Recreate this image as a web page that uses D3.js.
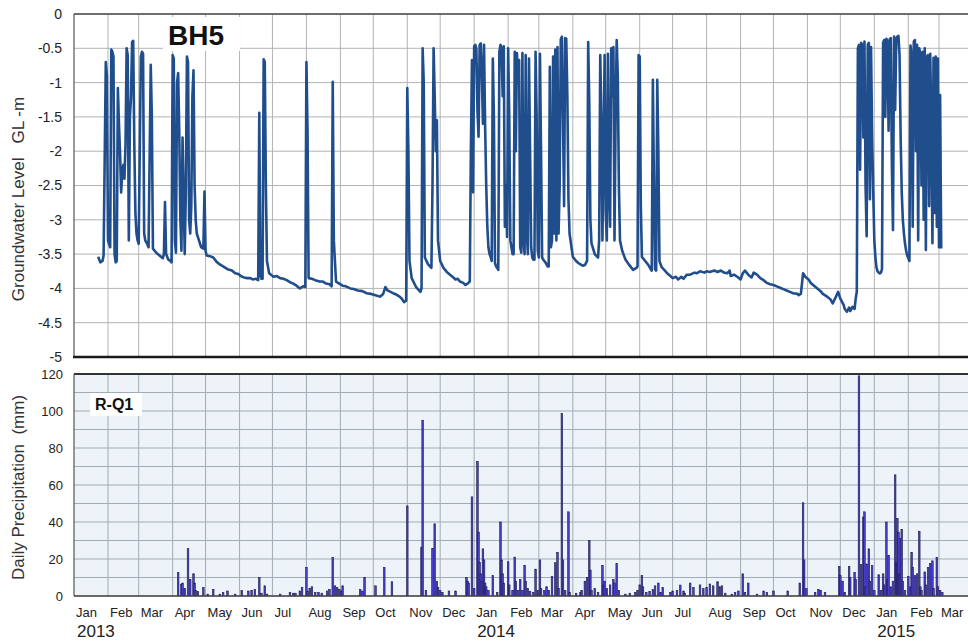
<!DOCTYPE html>
<html>
<head>
<meta charset="utf-8">
<script src="https://cdn.jsdelivr.net/npm/d3@7"></script>
<style>
  body { margin: 0; background: #fff; }
  svg { display: block; font-family: "Liberation Sans", Arial, sans-serif; }
</style>
</head>
<body>
<svg id="chart" width="968" height="644"></svg>
<script>
// Record period
const startDate = new Date(2013, 0, 1);
const endDate = new Date(2015, 3, 1);

// BH5 groundwater level: [days after 1 Jan 2013, level in m below ground]
const gwReadings = [
  [22,-3.54],[24,-3.62],[26,-3.60],[27,-3.52],[29,-0.70],[30,-0.90],[31,-3.30],[33,-3.40],[34,-0.52],[35,-0.55],
  [36,-0.62],[37,-3.50],[38,-3.62],[39,-3.60],[40,-1.08],[41,-1.60],[42,-2.03],[43,-2.60],[44,-2.30],[45,-2.20],
  [46,-2.40],[47,-1.90],[48,-0.50],[49,-0.60],[50,-3.30],[51,-1.50],[52,-1.20],[53,-0.41],[54,-0.39],[55,-1.90],
  [56,-2.90],[57,-3.20],[58,-3.30],[59,-3.35],[61,-0.62],[62,-0.55],[63,-0.58],[64,-3.20],[65,-3.30],[67,-3.36],
  [68,-3.40],[70,-0.74],[71,-1.50],[72,-3.42],[75,-3.48],[78,-3.52],[81,-3.56],[82,-3.50],[83,-2.74],[84,-3.50],
  [86,-3.58],[88,-3.60],[89,-3.62],[90,-0.60],[91,-0.65],[92,-3.30],[93,-3.48],[94,-1.00],[95,-0.86],[96,-1.70],
  [97,-3.00],[98,-3.45],[99,-1.80],[101,-3.50],[102,-2.60],[103,-0.62],[104,-0.70],[105,-3.00],[106,-3.20],[107,-2.80],
  [108,-1.20],[109,-0.82],[110,-2.50],[111,-3.00],[112,-3.20],[114,-3.30],[116,-3.40],[118,-3.42],[119,-2.59],[120,-3.45],
  [121,-3.52],[124,-3.53],[127,-3.55],[130,-3.61],[133,-3.65],[136,-3.68],[140,-3.72],[144,-3.74],[147,-3.78],[150,-3.79],
  [152,-3.82],[155,-3.84],[158,-3.85],[161,-3.85],[163,-3.87],[166,-3.86],[168,-3.88],[169,-1.44],
  [170,-3.80],[171,-3.86],[172,-3.86],[173,-0.66],[174,-0.70],[175,-2.50],[176,-3.60],[178,-3.78],[182,-3.83],[185,-3.82],
  [188,-3.85],[191,-3.86],[194,-3.88],[197,-3.91],[200,-3.93],[203,-3.96],[206,-4.00],[209,-3.97],[211,-3.98],[212,-0.70],
  [213,-1.70],[214,-3.85],[217,-3.86],[220,-3.88],[224,-3.90],[227,-3.90],[230,-3.93],[233,-3.94],[235,-3.97],[236,-0.99],
  [237,-3.30],[239,-3.90],[242,-3.93],[245,-3.96],[248,-3.97],[252,-4.00],[255,-4.01],[259,-4.03],[263,-4.04],[267,-4.07],
  [271,-4.08],[275,-4.10],[279,-4.12],[282,-4.08],[284,-3.98],[286,-4.03],[291,-4.07],[294,-4.09],[297,-4.12],[299,-4.15],
  [301,-4.20],[303,-4.18],[304,-1.08],[305,-2.00],
  [306,-3.60],[308,-3.85],[312,-3.98],[316,-4.05],[317,-4.00],[318,-0.50],[319,-1.00],[320,-3.55],[323,-3.65],[326,-3.70],
  [327,-2.50],[328,-0.50],[329,-1.20],[330,-2.00],[331,-1.55],[332,-3.30],[334,-3.60],[337,-3.70],[340,-3.76],[343,-3.80],
  [346,-3.84],[348,-3.87],[350,-3.86],[352,-3.90],[355,-3.92],[357,-3.95],[359,-3.93],[361,-3.90],[362,-2.00],[363,-0.67],
  [364,-2.60],[365,-0.47],[366,-0.45],[367,-0.50],
  [368,-1.40],[369,-1.79],[370,-0.45],[371,-0.43],[372,-0.90],[373,-1.60],[374,-0.45],[375,-1.64],[376,-2.50],[377,-3.10],
  [378,-3.40],[379,-3.50],[380,-3.54],[381,-3.60],[382,-0.65],[383,-1.50],[384,-3.63],[385,-3.68],[386,-3.70],[387,-3.73],
  [388,-0.55],[389,-0.45],[390,-0.50],[391,-1.20],[392,-0.47],[393,-3.10],[394,-2.50],[395,-3.25],[396,-0.50],[397,-1.50],
  [398,-3.30],[399,-3.40],[400,-3.50],[401,-3.50],[402,-0.55],[403,-2.00],[404,-0.57],[405,-1.00],[406,-0.67],[407,-3.40],
  [408,-3.48],[409,-0.57],[410,-3.30],[411,-3.50],[412,-0.60],[413,-3.20],[414,-3.50],[415,-0.65],[416,-2.00],[417,-3.40],
  [418,-3.55],[419,-3.58],[420,-3.58],[421,-0.55],[422,-1.50],[423,-3.45],[424,-3.55],[425,-0.58],[426,-2.00],[427,-3.55],
  [428,-3.58],[429,-3.60],[430,-3.62],[431,-3.65],[432,-3.68],[433,-3.68],[434,-0.77],[435,-3.40],[436,-3.30],[437,-0.62],
  [438,-3.20],[439,-0.52],[440,-3.30],[441,-0.48],[442,-3.20],[443,-2.50],[444,-0.37],[445,-0.33],[446,-1.50],[447,-2.80],
  [448,-0.35],[449,-0.36],[450,-1.20],[451,-2.70],[452,-3.20],[455,-3.54],[458,-3.60],[460,-3.63],[462,-3.65],[464,-3.67],
  [466,-3.66],[468,-3.60],
  [469,-0.41],[470,-1.30],[471,-3.00],[472,-3.34],[475,-3.50],[478,-3.55],[479,-3.30],[480,-0.60],[481,-1.50],[482,-3.30],
  [483,-2.00],[484,-0.60],[485,-2.90],[486,-3.30],[487,-0.58],[488,-2.50],[489,-3.10],[490,-0.50],[491,-1.20],[492,-0.48],
  [493,-3.30],[494,-1.50],[495,-0.38],[496,-0.90],[497,-2.50],[498,-3.30],[500,-3.45],[503,-3.58],[506,-3.65],[508,-3.69],
  [510,-3.73],[513,-3.70],[514,-3.68],[515,-0.60],[516,-0.62],[517,-2.80],[518,-3.54],[521,-3.60],[524,-3.66],[526,-3.72],
  [527,-3.74],
  [528,-0.96],[529,-2.50],[530,-3.72],[531,-3.74],[532,-0.96],[533,-2.00],[534,-3.60],[536,-3.69],[539,-3.74],[541,-3.78],
  [544,-3.82],[546,-3.85],[549,-3.83],[551,-3.87],[554,-3.83],[556,-3.86],[559,-3.80],[562,-3.80],[566,-3.77],[568,-3.78],
  [571,-3.75],[575,-3.77],[577,-3.75],[580,-3.76],[584,-3.74],[587,-3.76],[590,-3.74],[593,-3.77],[596,-3.78],[598,-3.74],
  [599,-3.82],[602,-3.80],[605,-3.83],[608,-3.87],[610,-3.78],[612,-3.74],[615,-3.80],[618,-3.84],[620,-3.77],[623,-3.80],
  [626,-3.85],[629,-3.88],[632,-3.92],[635,-3.94],[638,-3.95],[641,-3.97],[644,-3.99],[647,-4.01],[650,-4.03],[653,-4.05],
  [656,-4.07],[660,-4.08],[661,-4.10],[663,-4.08],[665,-3.78],[667,-3.83],[670,-3.87],[672,-3.92],[675,-3.96],[678,-4.00],
  [681,-4.04],[683,-4.08],[687,-4.12],[690,-4.16],[692,-4.22],[695,-4.12],[697,-4.05],[699,-4.15],[702,-4.24],[703,-4.30],
  [705,-4.34],[707,-4.28],[708,-4.33],[710,-4.27],[712,-4.30],[713,-4.15],[714,-4.05],[715,-0.50],[716,-0.45],[717,-2.27],
  [718,-0.42],[719,-0.45],[720,-1.80],[721,-0.40],[722,-2.50],[723,-3.24],[724,-0.45],[725,-0.42],[726,-2.70],[727,-0.48],
  [728,-1.80],[729,-2.60],[730,-3.30],[731,-3.55],[732,-3.70],[733,-3.75],[734,-3.77],[735,-3.78],[736,-3.77],[737,-3.72],
  [738,-0.42],[739,-0.38],[740,-1.50],[741,-0.36],[742,-0.40],[743,-1.70],[744,-0.37],[745,-0.35],[746,-2.20],[747,-3.15],
  [748,-0.33],[749,-1.40],[750,-0.36],[751,-0.33],[752,-0.32],[753,-0.60],[754,-1.80],[755,-2.60],[756,-3.00],[757,-3.20],
  [758,-3.35],[759,-3.45],[760,-3.52],[761,-3.56],[762,-3.60],[763,-0.46],[764,-0.60],[765,-3.10],[766,-0.40],[767,-0.38],
  [768,-2.00],[769,-0.45],[770,-3.30],[771,-0.50],[772,-0.60],[773,-2.50],[774,-0.55],[775,-3.00],[776,-0.50],[777,-3.44],
  [778,-0.62],[779,-0.60],[780,-2.80],[781,-0.58],[782,-1.60],[783,-3.34],[784,-0.64],[785,-2.90],[786,-0.62],[787,-3.10],
  [788,-0.65],[789,-3.40],[790,-1.18],[791,-3.42]
];

// R-Q1 daily precipitation: [days after 1 Jan 2013, mm]
const rainReadings = [
  [95,12.7],[98,6.4],[99,7],[101,4],[104,25.6],[106,9],[109,12],[110,7],[111,3],[113,2.5],[118,4.5],[122,1],[127,3.6],
  [133,1],[136,1.8],[140,2.7],[147,1],[153,3],[159,2.7],[162,3],[165,3.6],[169,10],[171,1.5],[174,5.5],[176,1],[188,1],
  [197,2],[200,1.5],[202,1.5],[206,2.7],[208,4.5],[212,15.5],[213,2.5],[215,4],[217,5],[220,2],[223,2],[226,1.5],
  [231,2.7],[233,3.6],[236,20.9],[238,5.5],[240,4.5],[242,3.6],[244,2.7],[245,5.5],[261,3.6],[263,2.7],[265,10],
  [275,5.5],[283,15.5],[290,7.7],[304,48.7],[317,26.4],[318,95],[321,3],[327,25.6],[329,39],[331,8],[332,4.5],[334,3],
  [336,2],[342,2.7],[348,2.7],[358,10],[359,8],[360,7],[363,53.6],[365,4],[368,72.7],[369,34.5],[370,18.2],[371,12],
  [372,8],[373,25.5],[374,19.5],[375,7],[376,5],[378,3],[382,11],[386,2],[389,40],[390,19.5],[391,12],[392,7],
  [396,18.5],[397,6],[400,3],[402,21],[403,8],[405,3],[407,9],[409,3],[411,16.6],[412,8],[414,4],[416,2.5],[419,2],
  [421,14.5],[423,3],[425,19.5],[426,4],[429,3],[431,5],[433,3],[436,10.5],[439,18],[441,23.6],[442,4],[445,98.6],
  [446,19.5],[448,3],[451,45.5],[452,2],[458,1.5],[462,2],[463,3],[466,8],[468,10],[470,30],[471,14],[472,3],[475,4],
  [478,2],[482,16.6],[483,6],[484,8],[486,4],[489,6],[492,9],[493,7],[495,17.5],[497,3],[503,1],[507,1.5],[512,2],
  [514,3],[516,6],[518,11],[519,5],[522,2],[525,2.5],[528,3.6],[530,5.5],[533,7],[535,2],[537,4.5],[544,2],[546,2.7],
  [550,3],[553,5.9],[556,2.7],[557,1.5],[562,7],[565,4.5],[571,6],[574,4],[577,4.5],[580,6.5],[583,5.5],[587,7.7],
  [589,5],[591,5.5],[594,1.5],[600,1],[603,2],[606,2.7],[610,12],[612,2],[615,7],[623,1],[629,2.7],[632,2],[638,2.7],
  [651,2.7],[662,7],[665,50.4],[666,19.5],[668,4],[676,2],[679,3.6],[681,3],[685,2],[698,16],[699,11],[701,8],[703,2],
  [707,16],[708,10],[712,12.7],[713,9],[716,119],[718,17],[720,42.7],[721,45.5],[722,5],[723,17.3],[725,25.5],[726,8],
  [728,16.4],[730,3],[734,11.5],[736,3],[738,12],[739,6],[741,40],[742,9],[743,22],[745,5],[747,8],[749,65.5],[750,18],
  [751,42],[752,34.5],[753,12],[754,31],[755,36],[756,8],[758,3],[761,10.5],[763,5],[764,23.6],[765,15.5],[767,11],
  [769,12],[771,35],[772,5],[773,3],[776,13],[777,6],[779,15.5],[781,17.5],[783,19],[784,4],[787,20.9],[788,5],
  [790,3],[792,2]
];

const levelTicks = [0, -0.5, -1, -1.5, -2, -2.5, -3, -3.5, -4, -4.5, -5];
const rainTicks = [0, 20, 40, 60, 80, 100, 120];
const rainGrid = d3.range(0, 121, 10);
const monthNames = ["Jan","Feb","Mar","Apr","May","Jun","Jul","Aug","Sep","Oct","Nov","Dec"];
const years = [2013, 2014, 2015];

const svg = d3.select("#chart");
const W = 968;

const x = d3.scaleTime().domain([startDate, endDate]).range([74, 973]);
const yLevel = d3.scaleLinear().domain([-5, 0]).range([357, 14]);
const yRain = d3.scaleLinear().domain([0, 120]).range([596, 374]);
const months = d3.timeMonth.range(startDate, endDate);
const dayToDate = d => d3.timeDay.offset(startDate, d);

const defs = svg.append("defs");
defs.append("clipPath").attr("id", "clipTop")
  .append("rect").attr("x", 74).attr("y", 10).attr("width", W - 74).attr("height", 350);
defs.append("clipPath").attr("id", "clipBottom")
  .append("rect").attr("x", 74).attr("y", 374).attr("width", W - 74).attr("height", 222);

// ---------- Groundwater panel ----------
const gTop = svg.append("g");
gTop.append("g").selectAll("line").data(levelTicks).join("line")
  .attr("x1", 74).attr("x2", W)
  .attr("y1", d => yLevel(d)).attr("y2", d => yLevel(d))
  .attr("stroke", "#b3b3b3").attr("stroke-width", 1);
gTop.append("g").selectAll("line").data(months.slice(1)).join("line")
  .attr("x1", d => x(d)).attr("x2", d => x(d))
  .attr("y1", yLevel(0)).attr("y2", yLevel(-5))
  .attr("stroke", "#b3b3b3").attr("stroke-width", 1);

// label box
gTop.append("rect").attr("x", 163).attr("y", 17).attr("width", 77).attr("height", 34).attr("fill", "#fff");

gTop.append("path")
  .datum(gwReadings)
  .attr("clip-path", "url(#clipTop)")
  .attr("fill", "none")
  .attr("stroke", "#204e8c")
  .attr("stroke-width", 2.6)
  .attr("stroke-linejoin", "round")
  .attr("d", d3.line().x(d => x(dayToDate(d[0]))).y(d => yLevel(d[1])));

gTop.append("line").attr("x1", 74).attr("x2", W).attr("y1", yLevel(0)).attr("y2", yLevel(0))
  .attr("stroke", "#4a4a4a").attr("stroke-width", 1.6);
gTop.append("line").attr("x1", 74).attr("x2", 74).attr("y1", yLevel(0)).attr("y2", yLevel(-5))
  .attr("stroke", "#555").attr("stroke-width", 1.2);
gTop.append("line").attr("x1", 73).attr("x2", W).attr("y1", yLevel(-5)).attr("y2", yLevel(-5))
  .attr("stroke", "#1a1a1a").attr("stroke-width", 2.4);

const levelAxis = d3.axisLeft(yLevel).tickValues(levelTicks).tickSize(0).tickPadding(12)
  .tickFormat(d => String(d));
const gLA = svg.append("g").attr("transform", "translate(74,0)").call(levelAxis);
gLA.select(".domain").remove();
gLA.selectAll("text").attr("font-size", 14).attr("fill", "#222")
  .attr("font-family", "Liberation Sans, Arial, sans-serif");

gTop.append("text").attr("x", 168).attr("y", 45)
  .attr("font-size", 28).attr("font-weight", "bold").attr("fill", "#111")
  .text("BH5");

svg.append("text")
  .attr("transform", `translate(24,${(308 + 90) / 2}) rotate(-90)`)
  .attr("text-anchor", "middle").attr("font-size", 17).attr("fill", "#333")
  .style("white-space", "pre")
  .text("Groundwater Level   GL -m");

// ---------- Precipitation panel ----------
const gBot = svg.append("g");
gBot.append("rect").attr("x", 74).attr("y", 374).attr("width", W - 74).attr("height", 222)
  .attr("fill", "#edf3f8");
gBot.append("g").selectAll("line").data(rainGrid).join("line")
  .attr("x1", 74).attr("x2", W)
  .attr("y1", d => yRain(d)).attr("y2", d => yRain(d))
  .attr("stroke", "#a3acb4").attr("stroke-width", 1);
gBot.append("g").selectAll("line").data(months.slice(1)).join("line")
  .attr("x1", d => x(d)).attr("x2", d => x(d))
  .attr("y1", yRain(120)).attr("y2", yRain(0))
  .attr("stroke", "#a3acb4").attr("stroke-width", 1);

gBot.append("rect").attr("x", 90).attr("y", 393).attr("width", 52).attr("height", 23).attr("fill", "#fff");

gBot.append("g").attr("clip-path", "url(#clipBottom)")
  .selectAll("rect").data(rainReadings.filter(d => d[1] > 0)).join("rect")
  .attr("x", d => x(dayToDate(d[0])) - 0.8)
  .attr("width", 1.6)
  .attr("y", d => yRain(d[1]))
  .attr("height", d => yRain(0) - yRain(d[1]))
  .attr("fill", "#4a3fd0")
  .attr("stroke", "#1e1c4a")
  .attr("stroke-width", 0.6);

gBot.append("line").attr("x1", 74).attr("x2", W).attr("y1", yRain(120)).attr("y2", yRain(120))
  .attr("stroke", "#333").attr("stroke-width", 2);
gBot.append("line").attr("x1", 74).attr("x2", 74).attr("y1", yRain(120)).attr("y2", yRain(0))
  .attr("stroke", "#555").attr("stroke-width", 1.2);
gBot.append("line").attr("x1", 74).attr("x2", W).attr("y1", yRain(0)).attr("y2", yRain(0))
  .attr("stroke", "#444").attr("stroke-width", 1.6);

const rainAxis = d3.axisLeft(yRain).tickValues(rainTicks).tickSize(0).tickPadding(11)
  .tickFormat(d => String(d));
const gRA = svg.append("g").attr("transform", "translate(74,0)").call(rainAxis);
gRA.select(".domain").remove();
gRA.selectAll("text").attr("font-size", 13).attr("fill", "#222")
  .attr("font-family", "Liberation Sans, Arial, sans-serif");

gBot.append("text").attr("x", 95).attr("y", 410)
  .attr("font-size", 16).attr("font-weight", "bold").attr("fill", "#111")
  .text("R-Q1");

svg.append("text")
  .attr("transform", `translate(24,${(587 + 388) / 2}) rotate(-90)`)
  .attr("text-anchor", "middle").attr("font-size", 17).attr("fill", "#333")
  .style("white-space", "pre")
  .text("Daily Precipitation  (mm)");

// month and year labels
svg.append("g").selectAll("text").data(months).join("text")
  .attr("x", d => x(d) + 2).attr("y", 617)
  .attr("font-size", 13).attr("fill", "#222")
  .text(d => monthNames[d.getMonth()]);

svg.append("g").selectAll("text").data(years).join("text")
  .attr("x", d => x(new Date(d, 0, 1)) + 3).attr("y", 637)
  .attr("font-size", 17).attr("fill", "#222")
  .text(d => String(d));
</script>
</body>
</html>
